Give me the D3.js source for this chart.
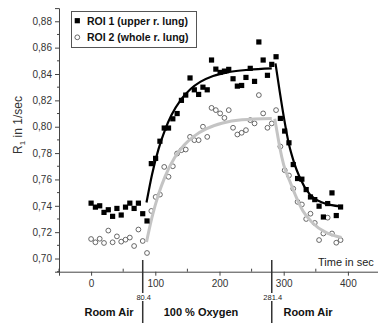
<!DOCTYPE html>
<html>
<head>
<meta charset="utf-8">
<script src="https://cdn.jsdelivr.net/npm/d3@7"></script>
<style>
  html, body { margin: 0; padding: 0; background: #fff; }
  svg { display: block; font-family: "Liberation Sans", Arial, sans-serif; }
</style>
</head>
<body>
<svg id="chart" width="378" height="323"></svg>
<script>
// sample times (s)
const times = [0, 6.7, 13.4, 20.1, 26.8, 33.5, 40.2, 46.9, 53.6, 60.3, 67, 73.7, 80.4, 87.1, 93.8,
  100.5, 107.2, 113.9, 120.6, 127.3, 134, 140.7, 147.4, 154.1, 160.8, 167.5, 174.2, 180.9, 187.6,
  194.3, 201, 207.7, 214.4, 221.1, 227.8, 234.5, 241.2, 247.9, 254.6, 261.3, 268, 274.7, 281.4,
  288.1, 294.8, 301.5, 308.2, 314.9, 321.6, 328.3, 335, 341.7, 348.4, 355.1, 361.8, 368.5, 375.2,
  381.9, 388.6];

// ROI 1 (upper r. lung), R1 in 1/sec
const roi1 = [0.742, 0.739, 0.740, 0.735, 0.737, 0.732, 0.738, 0.733, 0.739, 0.742, 0.738, 0.742,
  0.734, 0.7285, 0.772, 0.776, 0.789, 0.799, 0.799, 0.806, 0.810, 0.820, 0.824, 0.837, 0.828,
  0.8245, 0.830, 0.828, 0.8506, 0.8437, 0.8412, 0.8422, 0.8435, 0.8364, 0.8308, 0.8313, 0.8374,
  0.8443, 0.8344, 0.8643, 0.8506, 0.839, 0.8473, 0.8531, 0.8063, 0.7967, 0.7878, 0.7713, 0.7607,
  0.7602, 0.7523, 0.7467, 0.7447, 0.7397, 0.7315, 0.7417, 0.7498, 0.7326, 0.7391];

// ROI 2 (whole r. lung)
const roi2 = [0.7148, 0.7123, 0.715, 0.7118, 0.7212, 0.7123, 0.7168, 0.7128, 0.7143, 0.7159, 0.7095,
  0.722, 0.7133, 0.7042, 0.7361, 0.7467, 0.7485, 0.7695, 0.762, 0.770, 0.7797, 0.7822, 0.7827,
  0.7923, 0.7898, 0.7898, 0.800, 0.7923, 0.8143, 0.8126, 0.8101, 0.8067, 0.8126, 0.7992, 0.7941,
  0.7954, 0.7974, 0.805, 0.8025, 0.824, 0.8101, 0.7992, 0.8025, 0.8126, 0.785, 0.767, 0.763,
  0.753, 0.743, 0.741, 0.730, 0.734, 0.727, 0.714, 0.719, 0.731, 0.719, 0.712, 0.714];

// fit curves: [t, R1]
const fit1Rise = [[86.3, 0.7425], [95, 0.764], [105, 0.783], [115, 0.7975], [125, 0.8087], [140, 0.8206],
  [155, 0.8286], [170, 0.834], [190, 0.8385], [215, 0.8415], [245, 0.8432], [281.4, 0.8442]];
const fit1Fall = [[287.2, 0.848], [294, 0.826], [301, 0.805], [308, 0.787], [316, 0.773], [325, 0.7615],
  [340, 0.749], [360, 0.7425], [375, 0.7405], [388, 0.7395]];
const fit2Rise = [[86.3, 0.7125], [95, 0.7316], [105, 0.7487], [115, 0.762], [130, 0.7764], [145, 0.7861],
  [160, 0.7927], [180, 0.7985], [205, 0.8028], [235, 0.8052], [281.4, 0.8062]];
const fit2Fall = [[286, 0.806], [290, 0.795], [294, 0.784], [300, 0.771], [310, 0.758], [320, 0.746],
  [330, 0.736], [345, 0.727], [365, 0.720], [390, 0.716]];

const yTicks = [0.70, 0.72, 0.74, 0.76, 0.78, 0.80, 0.82, 0.84, 0.86, 0.88];
const xTicks = [0, 100, 200, 300, 400];
const switchTimes = [80.4, 281.4];
const phases = [["Room Air", 109], ["100 % Oxygen", 201], ["Room Air", 308]];
const legendNames = ["ROI 1 (upper r. lung)", "ROI 2 (whole r. lung)"];

const svg = d3.select("#chart");
const axisColor = "#444";

const x = d3.scaleLinear().domain([-50, 450]).range([59, 380]);
const y = d3.scaleLinear().domain([0.69, 0.89]).range([271.7, 8.1]);

// y axis
const yAxis = svg.append("g").attr("transform", "translate(59,0)")
  .call(d3.axisLeft(y).tickValues(yTicks).tickFormat(d => d3.format(".2f")(d).replace(".", ","))
    .tickSize(4).tickPadding(3));
yAxis.select(".domain").attr("stroke", axisColor);
yAxis.selectAll(".tick line").attr("stroke", axisColor);
yAxis.selectAll(".tick text").attr("fill", "#333").attr("font-size", 10)
  .attr("font-family", "Liberation Sans, Arial, sans-serif");
yAxis.selectAll(".minor").data(d3.range(0.69, 0.885, 0.02)).enter().append("line")
  .attr("x1", -2).attr("x2", 0).attr("y1", d => y(d)).attr("y2", d => y(d))
  .attr("stroke", axisColor);

// x axis
const xAxis = svg.append("g").attr("transform", `translate(0,${y(0.69)})`)
  .call(d3.axisBottom(x).tickValues(xTicks).tickSize(4).tickPadding(4));
xAxis.select(".domain").attr("stroke", axisColor);
xAxis.selectAll(".tick line").attr("stroke", axisColor);
xAxis.selectAll(".tick text").attr("fill", "#333").attr("font-size", 10)
  .attr("font-family", "Liberation Sans, Arial, sans-serif");
xAxis.selectAll(".minor").data([-50, 50, 150, 250, 350]).enter().append("line")
  .attr("x1", d => x(d)).attr("x2", d => x(d)).attr("y1", 0).attr("y2", -3)
  .attr("stroke", axisColor);

svg.append("text").attr("x", 318).attr("y", 266).attr("font-size", 11).attr("fill", "#222")
  .text("Time in sec");

// y label
const yl = svg.append("text").attr("transform", "translate(22,125) rotate(-90)")
  .attr("text-anchor", "middle").attr("font-size", 12).attr("fill", "#333");
yl.append("tspan").text("R");
yl.append("tspan").attr("font-size", 8).attr("dy", 3).text("1");
yl.append("tspan").attr("dy", -3).text(" in 1/sec");

// data
const pts = times.map((t, i) => ({ t, a: roi1[i], b: roi2[i] }));

svg.append("g").selectAll("circle").data(pts).enter().append("circle")
  .attr("cx", d => x(d.t)).attr("cy", d => y(d.b)).attr("r", 2.4)
  .attr("fill", "#fff").attr("stroke", "#444").attr("stroke-width", 0.8);

const line = d3.line().x(d => x(d[0])).y(d => y(d[1])).curve(d3.curveMonotoneX);
[fit2Rise, fit2Fall].forEach(f => svg.append("path").attr("d", line(f))
  .attr("fill", "none").attr("stroke", "#c4c4c4").attr("stroke-width", 3));

svg.append("g").selectAll("rect").data(pts).enter().append("rect")
  .attr("x", d => x(d.t) - 2.6).attr("y", d => y(d.a) - 2.6).attr("width", 5.2).attr("height", 5.2)
  .attr("fill", "#000");

[fit1Rise, fit1Fall].forEach(f => svg.append("path").attr("d", line(f))
  .attr("fill", "none").attr("stroke", "#000").attr("stroke-width", 2.2));

// phase markers
switchTimes.forEach(t => {
  svg.append("line").attr("x1", x(t)).attr("x2", x(t)).attr("y1", 260).attr("y2", 323)
    .attr("stroke", "#333").attr("stroke-width", 1.5);
  svg.append("rect").attr("x", x(t) - 6).attr("y", 293).attr("width", 14).attr("height", 8).attr("fill", "#fff");
  svg.append("text").attr("x", x(t) + 1).attr("y", 300).attr("text-anchor", "middle")
    .attr("font-size", 7.5).attr("fill", "#222").text(String(t));
});
phases.forEach(([label, cx]) => svg.append("text").attr("x", cx).attr("y", 316)
  .attr("text-anchor", "middle").attr("font-size", 11).attr("font-weight", "bold").attr("fill", "#111")
  .text(label));

// legend
const lg = svg.append("g");
lg.append("rect").attr("x", 71.5).attr("y", 11.5).attr("width", 125).attr("height", 36)
  .attr("fill", "#fff").attr("stroke", "#555");
lg.append("rect").attr("x", 77.3 - 2.6).attr("y", 20.7 - 2.6).attr("width", 5.2).attr("height", 5.2).attr("fill", "#000");
lg.append("circle").attr("cx", 77.3).attr("cy", 37.3).attr("r", 2.4).attr("fill", "#fff")
  .attr("stroke", "#444").attr("stroke-width", 0.8);
legendNames.forEach((n, i) => lg.append("text").attr("x", 87).attr("y", 24.5 + i * 16.5)
  .attr("font-size", 10.5).attr("font-weight", "bold").attr("fill", "#111").text(n));
</script>
</body>
</html>
